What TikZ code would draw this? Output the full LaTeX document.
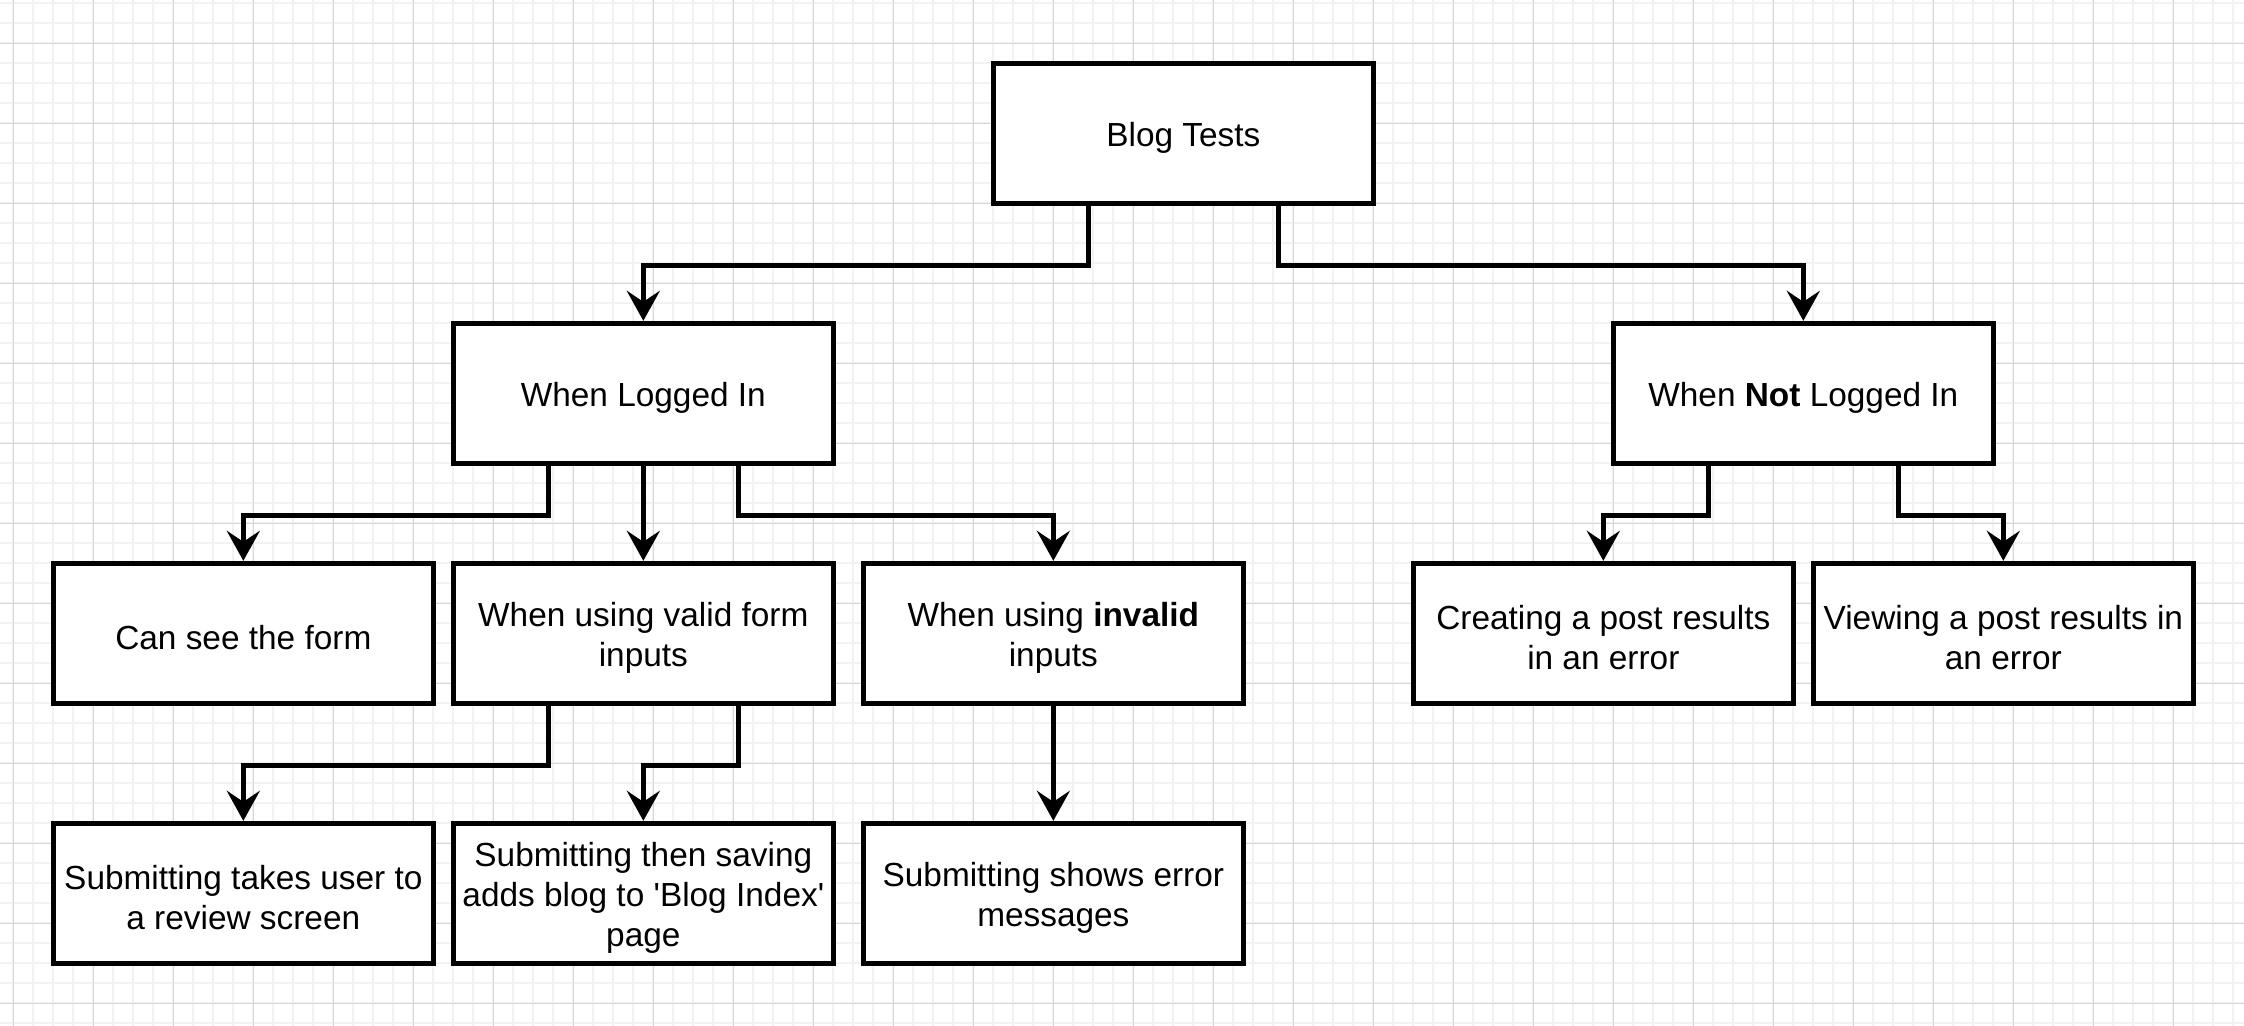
\documentclass[tikz,border=0pt]{standalone}
\usepackage{fontspec}
\setmainfont{Liberation Sans}
\usetikzlibrary{arrows.meta}
\newcommand{\topgap}{\rule{0pt}{19pt}}

\begin{document}
\begin{tikzpicture}[x=0.4cm, y=-0.4cm,
  testbox/.style={draw, line width=0.1cm, fill=white, minimum width=7.6cm, minimum height=2.8cm, inner sep=0pt, align=center, font=\fontsize{19pt}{22.7pt}\selectfont},
  conn/.style={line width=0.1cm, -{Stealth[length=0.6cm, width=0.66cm, inset=0.22cm]}},
  minorline/.style={draw=black!5, line width=0.04cm},
  majorline/.style={draw=black!16, line width=0.02cm}]
\useasboundingbox[fill=white] (-0.6667,-2.1667) rectangle (111.5333,49.1333);
\begin{scope}
\clip (-0.6667,-2.1667) rectangle (111.5333,49.1333);
\foreach \i in {-1,...,112} \draw[minorline] (\i,-3) -- (\i,50);
\foreach \j in {-3,...,50} \draw[minorline] (-1,\j) -- (112,\j);
\foreach \i in {0,4,...,108} \draw[majorline] (\i,-3) -- (\i,50);
\foreach \j in {0,4,...,48} \draw[majorline] (-1,\j) -- (112,\j);
\end{scope}

\node[testbox] (blogtests) at (58.5,4.5) {\topgap Blog Tests};
\node[testbox] (loggedin) at (31.5,17.5) {\topgap When Logged In};
\node[testbox] (notloggedin) at (89.5,17.5) {\topgap When \textbf{Not} Logged In};
\node[testbox] (seeform) at (11.5,29.5) {\topgap Can see the form};
\node[testbox] (validinputs) at (31.5,29.5) {\topgap When using valid form\\inputs};
\node[testbox] (invalidinputs) at (52,29.5) {\topgap When using \textbf{invalid}\\inputs};
\node[testbox] (createpost) at (79.5,29.5) {\topgap Creating a post results\\in an error};
\node[testbox] (viewpost) at (99.5,29.5) {\topgap Viewing a post results in\\an error};
\node[testbox] (reviewscreen) at (11.5,42.5) {\topgap Submitting takes user to\\a review screen};
\node[testbox] (blogindex) at (31.5,42.5) {\topgap Submitting then saving\\adds blog to \textquotesingle Blog Index\textquotesingle\\page};
\node[testbox] (errormsgs) at (52,42.5) {\topgap Submitting shows error\\messages};

\draw[conn] ([xshift=-1.9cm]blogtests.south) -- ++(0,3) -| (loggedin.north);
\draw[conn] ([xshift=1.9cm]blogtests.south) -- ++(0,3) -| (notloggedin.north);
\draw[conn] ([xshift=-1.9cm]loggedin.south) -- ++(0,2.5) -| (seeform.north);
\draw[conn] (loggedin.south) -- (validinputs.north);
\draw[conn] ([xshift=1.9cm]loggedin.south) -- ++(0,2.5) -| (invalidinputs.north);
\draw[conn] ([xshift=-1.9cm]notloggedin.south) -- ++(0,2.5) -| (createpost.north);
\draw[conn] ([xshift=1.9cm]notloggedin.south) -- ++(0,2.5) -| (viewpost.north);
\draw[conn] ([xshift=-1.9cm]validinputs.south) -- ++(0,3) -| (reviewscreen.north);
\draw[conn] ([xshift=1.9cm]validinputs.south) -- ++(0,3) -| (blogindex.north);
\draw[conn] (invalidinputs.south) -- (errormsgs.north);
\end{tikzpicture}
\end{document}
